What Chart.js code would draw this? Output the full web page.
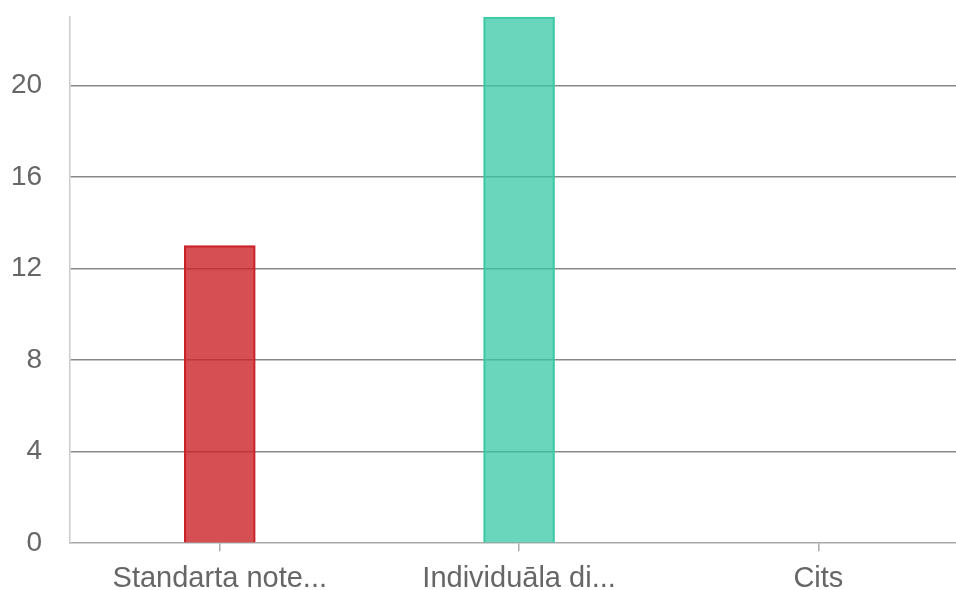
<!DOCTYPE html>
<html>
<head>
<meta charset="utf-8">
<script src="https://cdn.jsdelivr.net/npm/chart.js@4"></script>
<style>
  html, body { margin: 0; padding: 0; background: #fff; overflow: hidden; }
  #wrap { width: 968px; height: 590px; }
</style>
</head>
<body>
<div id="wrap"><canvas id="chart" width="968" height="590"></canvas></div>
<script>
// catégories et valeurs
const categories = ['Standarta note...', 'Individuāla di...', 'Cits'];
const counts = [13, 23, 0];
const barColors = ['rgba(204, 35, 40, 0.8)', 'rgba(54, 201, 164, 0.74)', 'rgba(120, 120, 200, 0.8)'];
const borderColors = ['#c8222a', '#3cc9a5', '#7878c8'];
const yMax = 23;
const yStep = 4;

const ctx = document.getElementById('chart').getContext('2d');
new Chart(ctx, {
  type: 'bar',
  data: {
    labels: categories,
    datasets: [{
      data: counts,
      backgroundColor: barColors,
      borderColor: borderColors,
      borderWidth: 1.5,
      barThickness: 71
    }]
  },
  options: {
    responsive: false,
    animation: false,
    layout: { padding: { top: 0, left: 11, right: 0, bottom: -16 } },
    plugins: { legend: { display: false }, tooltip: { enabled: false } },
    scales: {
      x: {
        grid: { display: true, offset: false, drawOnChartArea: false, drawTicks: true, tickLength: 8, color: '#aaa', lineWidth: 1.5 },
        border: { color: '#aaa', width: 1.5 },
        ticks: { color: '#666', font: { family: 'Liberation Sans, Arial', size: 29 }, padding: 10, maxRotation: 0 }
      },
      y: {
        min: 0,
        max: yMax,
        afterBuildTicks: axis => {
          axis.ticks = axis.ticks.filter(t => t.value % yStep === 0);
        },
        grid: {
          drawTicks: true,
          tickLength: 28,
          tickColor: 'rgba(0,0,0,0)',
          color: ctx => ctx.tick && ctx.tick.value === 0 ? 'rgba(0,0,0,0)' : '#888',
          lineWidth: 1.5
        },
        border: { color: '#ccc', width: 1.5 },
        ticks: { stepSize: yStep, color: '#666', font: { family: 'Liberation Sans, Arial', size: 28 }, padding: 0 }
      }
    }
  }
});
</script>
</body>
</html>
